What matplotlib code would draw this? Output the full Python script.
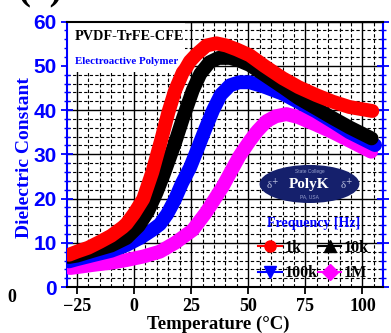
import numpy as np
import matplotlib.pyplot as plt
from matplotlib.patches import Ellipse, Rectangle
from matplotlib.lines import Line2D
from matplotlib.ticker import MultipleLocator

# dielectric constant vs temperature, PVDF-TrFE-CFE, four frequencies
T_1k = [-28.5, -25, -20, -15, -10, -5, -3.3, 0, 4, 8, 12, 15, 18, 21.3, 22.5, 24.4, 27.3,
        31.7, 36, 40.4, 45, 50.6, 57, 65.1, 72, 79.7, 87, 94.3, 104.3]
eps_1k = [7.3, 8.0, 8.9, 10.2, 11.6, 13.5, 14.3, 16.6, 19.9, 26, 33.5, 39.5, 44.5, 48.5, 49.3, 51, 52.6,
          54.6, 55.1, 54.6, 53.7, 52.4, 50, 47.2, 45.2, 43.4, 41.9, 40.7, 39.8]

T_10k = [-28.5, -25, -18, -10, -3.3, 2, 6, 9.8, 13, 17.8, 21.3, 25.7, 29, 33, 37, 42, 46,
         50.6, 57, 65.1, 72, 79.7, 87, 94.3, 104]
eps_10k = [6.8, 7.1, 8.2, 9.4, 11.1, 13.8, 17, 21.3, 25.5, 32.4, 38, 44.5, 48.2, 50.8, 51.8, 51.8, 51.2,
           50.2, 48, 45.2, 42.7, 40.4, 38.2, 36.1, 33.6]

T_100k = [-28.5, -25, -18, -10, -3.3, 3, 8, 11.3, 14.5, 17.8, 21, 24.5, 28, 31, 34.6, 38, 42, 46,
          50.6, 57, 65.1, 72, 79.7, 87, 94.3, 105.5]
eps_100k = [5.8, 6.3, 7.2, 8.2, 9.5, 11.2, 12.9, 14.2, 16.5, 19.7, 23.5, 27, 31.5, 35.5, 40, 43.5, 45.6, 46.3,
            46.3, 45.3, 43.7, 41.8, 39.7, 37.4, 35, 32.1]

T_1M = [-28, -25, -18, -10, -3.3, 4, 11.3, 18, 25.7, 31.7, 38.8, 46, 50.6, 54, 58, 62, 66.7,
        72, 79.7, 87, 94.3, 103.8]
eps_1M = [4.3, 4.5, 5.0, 5.5, 6.1, 6.9, 8.0, 10, 12.9, 17, 22.7, 29.5, 33.0, 35.3, 37.5, 38.6, 39.1,
          38.4, 36.7, 35.0, 33.1, 30.6]

labels = ['1k', '10k', '100k', '1M']
colors = ['#ff0000', '#000000', '#0000ff', '#ff00ff']
markers = ['o', '^', 'v', 'D']

serif = 'Liberation Serif'
sans = 'Liberation Sans'
blue = '#0000ff'

fig = plt.figure(figsize=(3.91, 3.33), dpi=100)
ax = fig.add_axes([0.1706, 0.138, 0.809, 0.797])

series = [(T_1k, eps_1k), (T_10k, eps_10k), (T_100k, eps_100k), (T_1M, eps_1M)]
for i in [3, 2, 1, 0]:
    t, e = series[i]
    ax.plot(t, e, color=colors[i], lw=10, solid_capstyle='round',
            solid_joinstyle='round', zorder=3 + (3 - i))

ax.set_xlim(-29.5, 109)
ax.set_ylim(0, 60)
ax.xaxis.set_major_locator(MultipleLocator(25))
ax.xaxis.set_minor_locator(MultipleLocator(5))
ax.yaxis.set_major_locator(MultipleLocator(10))
ax.yaxis.set_minor_locator(MultipleLocator(2))

# grid: solid on major ticks, dashed on minor ticks
for v in ax.xaxis.get_minorticklocs():
    ax.axvline(v, color='black', lw=0.8, ls=(0, (3, 2)), zorder=1)
for v in ax.yaxis.get_minorticklocs():
    ax.axhline(v, color='black', lw=0.8, ls=(0, (3, 2)), zorder=1)
for v in ax.xaxis.get_majorticklocs():
    ax.axvline(v, color='black', lw=1.0, zorder=1.2)
for v in ax.yaxis.get_majorticklocs():
    ax.axhline(v, color='black', lw=1.0, zorder=1.2)

# blank patch behind the title block
ax.add_patch(Rectangle((0, 0.811), 0.374, 0.189, transform=ax.transAxes,
                       facecolor='white', edgecolor='none', zorder=2))

for s in ['left', 'right']:
    ax.spines[s].set_color(blue)
    ax.spines[s].set_linewidth(1.5)
for s in ['top', 'bottom']:
    ax.spines[s].set_color('black')
    ax.spines[s].set_linewidth(1.5)

ax.tick_params(axis='y', which='major', direction='inout', length=8, width=1.3,
               color=blue, labelcolor=blue, right=True, pad=3)
ax.tick_params(axis='y', which='minor', direction='inout', length=4, width=1,
               color=blue, right=True)
ax.tick_params(axis='x', which='major', direction='out', length=5, width=1.3,
               color='black', pad=3)
ax.tick_params(axis='x', which='minor', length=0)
for lab in ax.get_yticklabels():
    lab.set_fontfamily(sans)
    lab.set_fontweight('bold')
    lab.set_fontsize(15)
for lab in ax.get_xticklabels():
    lab.set_fontfamily(serif)
    lab.set_fontweight('bold')
    lab.set_fontsize(13)

ax.set_xlabel('Temperature (\u00b0C)', family=serif, weight='bold', fontsize=13.5, va='center')
ax.xaxis.set_label_coords(0.478, -0.14)
ax.set_ylabel('Dielectric Constant', family=serif, weight='bold', fontsize=14,
              color=blue, va='center')
ax.yaxis.set_label_coords(-0.135, 0.487)

ax.text(0.026, 0.943, 'PVDF-TrFE-CFE', transform=ax.transAxes, family=serif,
        weight='bold', fontsize=10.3, va='center', ha='left', zorder=10)
ax.text(0.026, 0.849, 'Electroactive Polymer', transform=ax.transAxes, family=serif,
        weight='bold', fontsize=7.8, color=blue, va='center', ha='left', zorder=10)

# PolyK badge
ax.add_patch(Ellipse((76.8, 23.3), 43.7, 8.6, facecolor='#15206c', edgecolor='none', zorder=8))
ax.text(76.8, 26.2, 'State College', family=sans, fontsize=3.5, color='#9aa3d0',
        ha='center', va='center', zorder=9)
ax.text(76.8, 23.2, 'PolyK', family=serif, weight='bold', fontsize=11, color='white',
        ha='center', va='center', zorder=9)
ax.text(76.8, 20.4, 'PA, USA', family=sans, fontsize=3.5, color='#9aa3d0',
        ha='center', va='center', zorder=9)
ax.text(60.5, 23.2, '\u03b4$^{+}$', family=serif, fontsize=8, color='#b8bedd',
        ha='center', va='center', zorder=9)
ax.text(93.0, 23.2, '\u03b4$^{+}$', family=serif, fontsize=8, color='#b8bedd',
        ha='center', va='center', zorder=9)

# legend filled row by row: 1k, 10k / 100k, 1M
handles = [Line2D([], [], color=c, marker=m, markersize=8, lw=1.5)
           for c, m in zip(colors, markers)]
order = [0, 2, 1, 3]
leg = ax.legend([handles[k] for k in order], [labels[k] for k in order], ncol=2,
                frameon=False, loc='upper left', bbox_to_anchor=(0.575, 0.30),
                title='Frequency [Hz]',
                prop={'family': serif, 'weight': 'bold', 'size': 11.5},
                handlelength=1.5, handletextpad=0.15, columnspacing=0.0,
                labelspacing=0.6, borderpad=0.1)
leg.get_title().set_color(blue)
leg.get_title().set_fontfamily(serif)
leg.get_title().set_fontweight('bold')
leg.get_title().set_fontsize(10)
leg.set_zorder(10)

fig.text(12 / 391, 1 - 298 / 333, '0', family=serif, weight='bold', fontsize=13,
         ha='center', va='center')
fig.text(0.045, 1 + 1 / 333, '(a)', family=serif, weight='bold', fontsize=28,
         ha='left', va='baseline')

fig.savefig('out.png', dpi=100)
